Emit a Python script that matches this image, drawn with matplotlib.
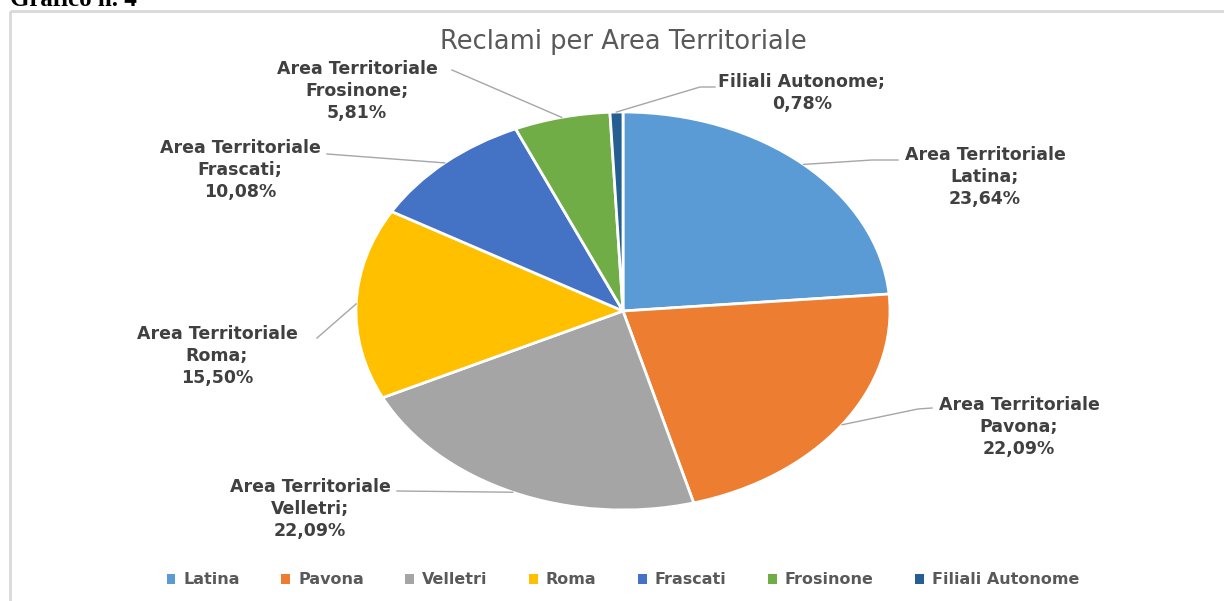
import numpy as np
import matplotlib
matplotlib.use("Agg")
import matplotlib.pyplot as plt
from matplotlib.patches import Patch

# data
areas = ["Latina", "Pavona", "Velletri", "Roma", "Frascati", "Frosinone", "Filiali Autonome"]
perc = [23.64, 22.09, 22.09, 15.50, 10.08, 5.81, 0.78]
colors = ["#5B9BD5", "#ED7D31", "#A5A5A5", "#FFC000", "#4472C4", "#70AD47", "#255E91"]

W, H = 1224, 601
fig = plt.figure(figsize=(W / 100, H / 100), dpi=100)
fig.patch.set_facecolor("white")

# pie geometry in pixels (pie is stretched into an ellipse)
cx, cy, rx, ry = 623, 311, 267, 199

ax = fig.add_axes([(cx - rx) / W, 1 - (cy + ry) / H, 2 * rx / W, 2 * ry / H])
wedges, _ = ax.pie(perc, colors=colors, startangle=90, counterclock=False,
                   radius=1, wedgeprops=dict(edgecolor="white", linewidth=2))
ax.set_aspect("auto")
ax.set_xlim(-1, 1)
ax.set_ylim(-1, 1)
ax.axis("off")

# overlay in pixel coords for text and leader lines
ov = fig.add_axes([0, 0, 1, 1], zorder=5)
ov.set_xlim(0, W)
ov.set_ylim(H, 0)
ov.axis("off")
ov.patch.set_alpha(0)

# chart border (top and left only visible)
ov.plot([10, W], [11, 11], color="#D9D9D9", lw=2, solid_capstyle="butt")
ov.plot([10, 10], [11, H], color="#D9D9D9", lw=2, solid_capstyle="butt")

ov.text(10, 6, "Grafico n. 4", family="Liberation Serif", weight="bold",
        fontsize=18, va="baseline", ha="left", color="black")

ov.text(cx, 42, "Reclami per Area Territoriale", fontsize=18.5, color="#595959",
        ha="center", va="center")

# label layout: centre of text block, leader line points after the pie edge
label_pos = [(985, 177), (1019, 427), (310, 509), (217, 356), (240, 170), (357, 91), (802, 93)]
leader = [[(872, 160), (898, 160)],
          [(918, 409), (932, 408)],
          [(397, 491)],
          [(317, 338)],
          [(327, 154)],
          [(452, 70)],
          [(700, 87), (715, 87)]]

cum = np.cumsum([0] + perc[:-1])
for i, name in enumerate(areas):
    mid = np.deg2rad(90 - (cum[i] + perc[i] / 2) * 3.6)
    sx = cx + rx * np.cos(mid)
    sy = cy - ry * np.sin(mid)
    pts = [(sx, sy)] + leader[i]
    ov.plot([p[0] for p in pts], [p[1] for p in pts], color="#A6A6A6", lw=1)
    val = f"{perc[i]:.2f}".replace(".", ",") + "%"
    if name == "Filiali Autonome":
        txt = f"{name};\n{val}"
    else:
        txt = f"Area Territoriale\n{name};\n{val}"
    ov.text(label_pos[i][0], label_pos[i][1], txt, ha="center", va="center",
            fontsize=12.5, weight="bold", color="#404040", linespacing=1.3)

handles = [Patch(facecolor=c, edgecolor="none") for c in colors]
leg = fig.legend(handles, areas, loc="center", bbox_to_anchor=(cx / W, 1 - 580 / H),
                 ncol=7, frameon=False, handlelength=0.55, handleheight=0.55,
                 handletextpad=0.5, columnspacing=2.6,
                 prop=dict(size=11.5, weight="bold"))
for t in leg.get_texts():
    t.set_color("#595959")

fig.savefig("out.png", dpi=100)
